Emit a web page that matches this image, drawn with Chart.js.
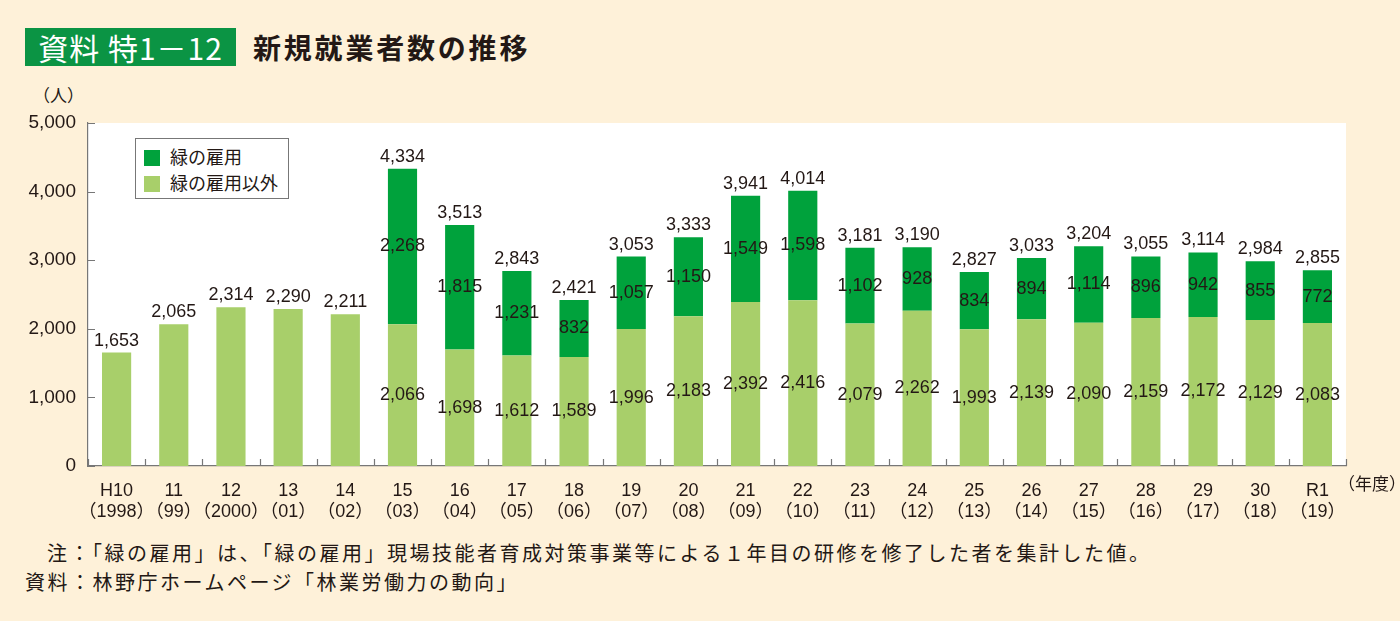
<!DOCTYPE html>
<html lang="ja">
<head>
<meta charset="utf-8">
<script src="https://cdn.jsdelivr.net/npm/chart.js@4/dist/chart.umd.min.js"></script>
<style>
  html, body { margin: 0; padding: 0; }
  body { width: 1400px; height: 621px; background: #fef1d9; position: relative; overflow: hidden;
         font-family: "Noto Sans CJK JP", "Noto Sans", sans-serif; color: #231815; }
  #tag { position: absolute; left: 25px; top: 28px; width: 211px; height: 38px; background: #0b9444;
         color: #fff; font-size: 30px; line-height: 38px; text-align: center; white-space: nowrap; letter-spacing: 1px; }
  #title { position: absolute; left: 253px; top: 28px; font-size: 28px; font-weight: bold; line-height: 38px;
           letter-spacing: 2.8px; white-space: nowrap; }
  #unit { position: absolute; left: 33px; top: 82px; font-size: 17px; }
  #nendo { position: absolute; left: 1338px; top: 470px; font-size: 17px; }
  #wrap { position: absolute; left: 0; top: 100px; width: 1400px; height: 420px; }
  #legend { position: absolute; left: 135px; top: 138px; width: 152px; height: 59px; border: 1px solid #777;
            background: #fff; font-size: 18px; }
  .row { position: absolute; left: 8px; height: 18px; line-height: 18px; white-space: nowrap; }
  .sw { display: inline-block; width: 16px; height: 16px; vertical-align: -2px; margin-right: 10px; }
  .note { position: absolute; font-size: 20px; letter-spacing: 2.5px; white-space: nowrap; line-height: 24px; }
</style>
</head>
<body>
<div id="tag">資料 特1－12</div>
<div id="title">新規就業者数の推移</div>
<div id="unit">（人）</div>
<div id="wrap"><canvas id="chart"></canvas></div>
<div id="legend">
  <div class="row" style="top:8px"><span class="sw" style="background:#00a23c"></span>緑の雇用</div>
  <div class="row" style="top:34px"><span class="sw" style="background:#a8cf6a"></span>緑の雇用以外</div>
</div>
<div id="nendo">（年度）</div>
<div class="note" style="left:47px; top:541px;">注：「緑の雇用」は、「緑の雇用」現場技能者育成対策事業等による１年目の研修を修了した者を集計した値。</div>
<div class="note" style="left:25px; top:570px;">資料：林野庁ホームページ「林業労働力の動向」</div>

<script>
// fiscal years (Heisei / Reiwa) with western year below
const years = ['H10','11','12','13','14','15','16','17','18','19','20','21','22','23','24','25','26','27','28','29','30','R1'];
const westYears = ['（1998）','（99）','（2000）','（01）','（02）','（03）','（04）','（05）','（06）','（07）','（08）','（09）','（10）','（11）','（12）','（13）','（14）','（15）','（16）','（17）','（18）','（19）'];

// 緑の雇用以外
const otherHires = [1653, 2065, 2314, 2290, 2211, 2066, 1698, 1612, 1589, 1996, 2183, 2392, 2416, 2079, 2262, 1993, 2139, 2090, 2159, 2172, 2129, 2083];
// 緑の雇用 (no data before H15)
const greenHires = [null, null, null, null, null, 2268, 1815, 1231, 832, 1057, 1150, 1549, 1598, 1102, 928, 834, 894, 1114, 896, 942, 855, 772];
// totals printed above bars
const totals = [1653, 2065, 2314, 2290, 2211, 4334, 3513, 2843, 2421, 3053, 3333, 3941, 4014, 3181, 3190, 2827, 3033, 3204, 3055, 3114, 2984, 2855];

const yTicks = [0, 1000, 2000, 3000, 4000, 5000];

const numFont = '"Liberation Sans", Arial, "Noto Sans CJK JP", sans-serif';
const textColor = '#231815';
const axisColor = '#777777';

function fmt(n) { return n.toLocaleString('en-US'); }

// white plot area
const plotBg = {
  id: 'plotBg',
  beforeDraw(chart) {
    const a = chart.chartArea, ctx = chart.ctx;
    ctx.save();
    ctx.fillStyle = '#ffffff';
    ctx.fillRect(a.left, a.top, a.right - a.left, a.bottom - a.top);
    ctx.restore();
  }
};

// short tick marks pointing into the plot
const innerTicks = {
  id: 'innerTicks',
  afterDraw(chart) {
    const ctx = chart.ctx, a = chart.chartArea;
    const x = chart.scales.x, y = chart.scales.y;
    ctx.save();
    ctx.strokeStyle = axisColor;
    ctx.lineWidth = 1.2;
    ctx.beginPath();
    yTicks.forEach(v => {
      const py = Math.round(y.getPixelForValue(v)) + 0.5;
      ctx.moveTo(a.left, py); ctx.lineTo(a.left + 7, py);
    });
    for (let i = 0; i <= years.length; i++) {
      const px = Math.round(x.getPixelForValue(i - 0.5)) + 0.5;
      ctx.moveTo(px, a.bottom); ctx.lineTo(px, a.bottom - 7);
    }
    ctx.stroke();
    ctx.restore();
  }
};

// value labels
const barLabels = {
  id: 'barLabels',
  afterDatasetsDraw(chart) {
    const ctx = chart.ctx;
    const m0 = chart.getDatasetMeta(0), m1 = chart.getDatasetMeta(1);
    ctx.save();
    ctx.fillStyle = textColor;
    ctx.font = '18px ' + numFont;
    ctx.textAlign = 'center';
    years.forEach((_, i) => {
      const b0 = m0.data[i];
      if (greenHires[i] == null) {
        ctx.textBaseline = 'bottom';
        ctx.fillText(fmt(totals[i]), b0.x, b0.y - 3);
        return;
      }
      const b1 = m1.data[i];
      ctx.textBaseline = 'middle';
      ctx.fillText(fmt(otherHires[i]), b0.x, (b0.y + b0.base) / 2);
      ctx.fillText(fmt(greenHires[i]), b1.x, (b1.y + b1.base) / 2);
      ctx.textBaseline = 'bottom';
      ctx.fillText(fmt(totals[i]), b1.x, b1.y - 3);
    });
    ctx.restore();
  }
};

new Chart(document.getElementById('chart'), {
  type: 'bar',
  data: {
    labels: years.map((y, i) => [y, westYears[i]]),
    datasets: [
      { label: '緑の雇用以外', data: otherHires, backgroundColor: '#a8cf6a', barPercentage: 0.51, categoryPercentage: 1 },
      { label: '緑の雇用', data: greenHires, backgroundColor: '#00a23c', barPercentage: 0.51, categoryPercentage: 1 }
    ]
  },
  plugins: [plotBg, innerTicks, barLabels],
  options: {
    responsive: true,
    maintainAspectRatio: false,
    animation: false,
    layout: { padding: { left: 0, right: 54, top: 23, bottom: 0 } },
    plugins: { legend: { display: false }, tooltip: { enabled: false } },
    scales: {
      x: {
        stacked: true,
        grid: { display: false },
        border: { display: true, color: axisColor, width: 1.2 },
        ticks: { color: textColor, padding: 6, maxRotation: 0, autoSkip: false,
                 font: { family: numFont, size: 18, lineHeight: 1.2 } },
        afterFit(scale) { scale.height = 54; }
      },
      y: {
        stacked: true,
        min: 0, max: 5000,
        grid: { display: false },
        border: { display: true, color: axisColor, width: 1.2 },
        afterBuildTicks(scale) { scale.ticks = yTicks.map(v => ({ value: v })); },
        ticks: { color: textColor, padding: 4, font: { family: numFont, size: 19 },
                 callback: v => fmt(v) },
        afterFit(scale) { scale.width = 88; }
      }
    }
  }
});
</script>
</body>
</html>
